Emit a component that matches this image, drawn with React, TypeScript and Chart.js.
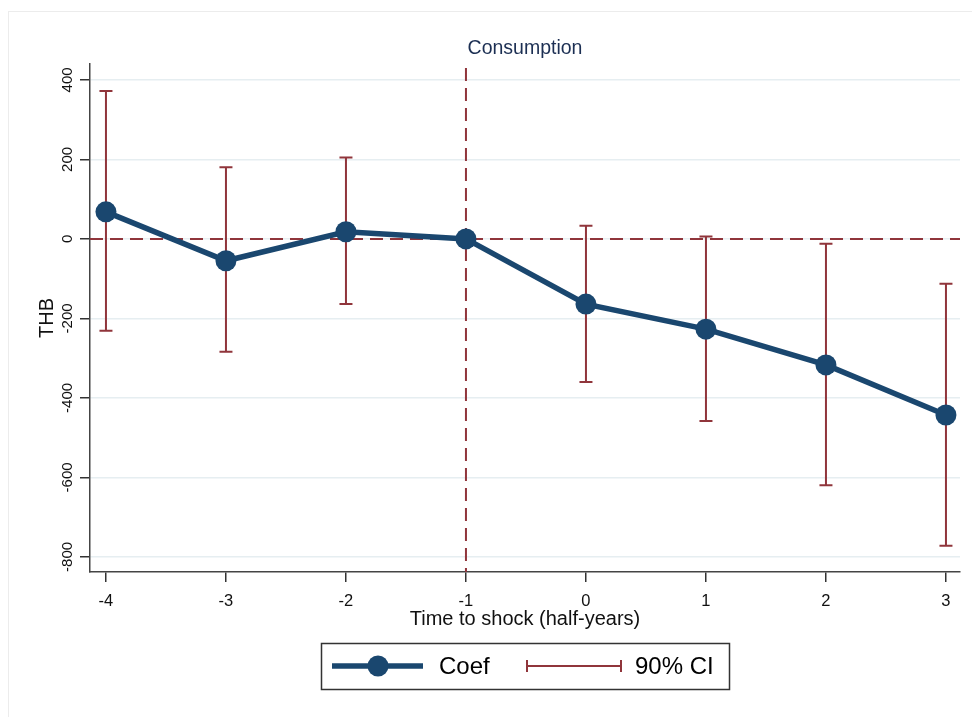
import React, { useEffect, useRef } from "react";
import { Chart, registerables } from "chart.js";

Chart.register(...registerables);

const periods = [-4, -3, -2, -1, 0, 1, 2, 3];
const coef = [68, -55, 18, 0, -164, -227, -317, -443];
const ciLow = [-231, -284, -164, null, -360, -458, -620, -772];
const ciHigh = [372, 180, 205, null, 33, 6, -12, -113];
const yTicks = [400, 200, 0, -200, -400, -600, -800];
const xTicks = [-4, -3, -2, -1, 0, 1, 2, 3];
const titleText = "Consumption";
const xTitle = "Time to shock (half-years)";
const yTitle = "THB";
const legendLabels = ["Coef", "90% CI"];
const refX = -1;
const refY = 0;

const NAVY = "#1a476f";
const MAROON = "#90353b";
const FONT = '"Liberation Sans", Arial, sans-serif';

const overlay = {
  id: "overlay",
  beforeDatasetsDraw(chart: any) {
    const { ctx, chartArea, scales } = chart;
    const xs = scales.x;
    const ys = scales.y;
    ctx.save();
    ctx.strokeStyle = MAROON;
    ctx.lineWidth = 2;
    ctx.setLineDash([13, 7]);
    const y0 = ys.getPixelForValue(refY);
    ctx.beginPath();
    ctx.moveTo(chartArea.left, y0);
    ctx.lineTo(chartArea.right, y0);
    ctx.stroke();
    const x0 = xs.getPixelForValue(refX);
    ctx.beginPath();
    ctx.moveTo(x0, chartArea.top + 4);
    ctx.lineTo(x0, chartArea.bottom);
    ctx.stroke();
    ctx.setLineDash([]);
    ctx.lineWidth = 2;
    periods.forEach((p, i) => {
      const lo = ciLow[i];
      const hi = ciHigh[i];
      if (lo === null || hi === null) return;
      const px = xs.getPixelForValue(p);
      const pl = ys.getPixelForValue(lo);
      const ph = ys.getPixelForValue(hi);
      ctx.beginPath();
      ctx.moveTo(px, pl);
      ctx.lineTo(px, ph);
      ctx.moveTo(px - 6.5, pl);
      ctx.lineTo(px + 6.5, pl);
      ctx.moveTo(px - 6.5, ph);
      ctx.lineTo(px + 6.5, ph);
      ctx.stroke();
    });
    ctx.restore();
  },
  afterDraw(chart: any) {
    const { ctx, chartArea, scales } = chart;
    const xs = scales.x;
    const ys = scales.y;
    ctx.save();
    ctx.strokeStyle = "#ececec";
    ctx.lineWidth = 1;
    ctx.strokeRect(8.5, 11.5, 990, 720);
    ctx.fillStyle = "#1c2f53";
    ctx.font = `19.5px ${FONT}`;
    ctx.textAlign = "center";
    ctx.textBaseline = "middle";
    ctx.fillText(titleText, (chartArea.left + chartArea.right) / 2, 49);
    ctx.fillStyle = "#111";
    ctx.font = `15px ${FONT}`;
    yTicks.forEach((v) => {
      const py = ys.getPixelForValue(v);
      ctx.save();
      ctx.translate(68, py);
      ctx.rotate(-Math.PI / 2);
      ctx.textAlign = "center";
      ctx.textBaseline = "middle";
      ctx.fillText(String(v), 0, 0);
      ctx.restore();
    });
    ctx.save();
    ctx.font = `20px ${FONT}`;
    ctx.translate(47, (chartArea.top + chartArea.bottom) / 2);
    ctx.rotate(-Math.PI / 2);
    ctx.textAlign = "center";
    ctx.textBaseline = "middle";
    ctx.fillText(yTitle, 0, 0);
    ctx.restore();
    ctx.font = `16.5px ${FONT}`;
    ctx.textAlign = "center";
    ctx.textBaseline = "middle";
    xTicks.forEach((v) => {
      ctx.fillText(String(v), xs.getPixelForValue(v), 601);
    });
    ctx.font = `20px ${FONT}`;
    ctx.fillText(xTitle, (chartArea.left + chartArea.right) / 2, 619);
    ctx.strokeStyle = "#333";
    ctx.lineWidth = 1.5;
    ctx.strokeRect(321.5, 643.5, 408, 46);
    const ly = 666;
    ctx.strokeStyle = NAVY;
    ctx.lineWidth = 5.5;
    ctx.beginPath();
    ctx.moveTo(332, ly);
    ctx.lineTo(423, ly);
    ctx.stroke();
    ctx.fillStyle = NAVY;
    ctx.beginPath();
    ctx.arc(378, ly, 10.5, 0, Math.PI * 2);
    ctx.fill();
    ctx.strokeStyle = MAROON;
    ctx.lineWidth = 2;
    ctx.beginPath();
    ctx.moveTo(527, ly);
    ctx.lineTo(621, ly);
    ctx.moveTo(527, ly - 6);
    ctx.lineTo(527, ly + 6);
    ctx.moveTo(621, ly - 6);
    ctx.lineTo(621, ly + 6);
    ctx.stroke();
    ctx.fillStyle = "#000";
    ctx.font = `24px ${FONT}`;
    ctx.textAlign = "left";
    ctx.textBaseline = "middle";
    ctx.fillText(legendLabels[0], 439, ly + 1);
    ctx.fillText(legendLabels[1], 635, ly + 1);
    ctx.restore();
  },
};

export default function App() {
  const ref = useRef<HTMLCanvasElement | null>(null);
  useEffect(() => {
    if (!ref.current) return;
    const chart = new Chart(ref.current, {
      type: "line",
      data: {
        datasets: [
          {
            label: legendLabels[0],
            data: periods.map((p, i) => ({ x: p, y: coef[i] })),
            borderColor: NAVY,
            backgroundColor: NAVY,
            borderWidth: 5.5,
            pointRadius: 10.5,
            pointBorderWidth: 0,
            pointBackgroundColor: NAVY,
            tension: 0,
            fill: false,
          },
        ],
      },
      options: {
        animation: false,
        responsive: false,
        maintainAspectRatio: false,
        layout: { padding: { left: 0, top: 64, right: 12, bottom: 85 } },
        plugins: {
          legend: { display: false },
          tooltip: { enabled: false },
          title: { display: false },
        },
        scales: {
          x: {
            type: "linear",
            min: -4.133,
            max: 3.117,
            afterBuildTicks: (s: any) => {
              s.ticks = xTicks.map((v) => ({ value: v }));
            },
            afterFit: (s: any) => {
              s.height = 60;
            },
            ticks: { display: false },
            grid: {
              drawOnChartArea: false,
              drawTicks: true,
              tickLength: 10,
              tickColor: "#333",
              tickWidth: 1.5,
              lineWidth: 1.5,
            },
            border: { display: true, color: "#444", width: 1.5 },
          },
          y: {
            type: "linear",
            min: -838,
            max: 440,
            afterBuildTicks: (s: any) => {
              s.ticks = yTicks.map((v) => ({ value: v }));
            },
            afterFit: (s: any) => {
              s.width = 90;
            },
            ticks: { display: false },
            grid: {
              color: "#e6eef1",
              lineWidth: 1.5,
              drawTicks: true,
              tickLength: 10,
              tickColor: "#333",
              tickWidth: 1.5,
            },
            border: { display: true, color: "#444", width: 1.5 },
          },
        },
      },
      plugins: [overlay],
    });
    return () => chart.destroy();
  }, []);
  return (
    <div style={{ position: "fixed", left: 0, top: 0, width: 972, height: 717, background: "#fff" }}>
      <canvas ref={ref} width={972} height={717} style={{ width: 972, height: 717, display: "block" }} />
    </div>
  );
}
